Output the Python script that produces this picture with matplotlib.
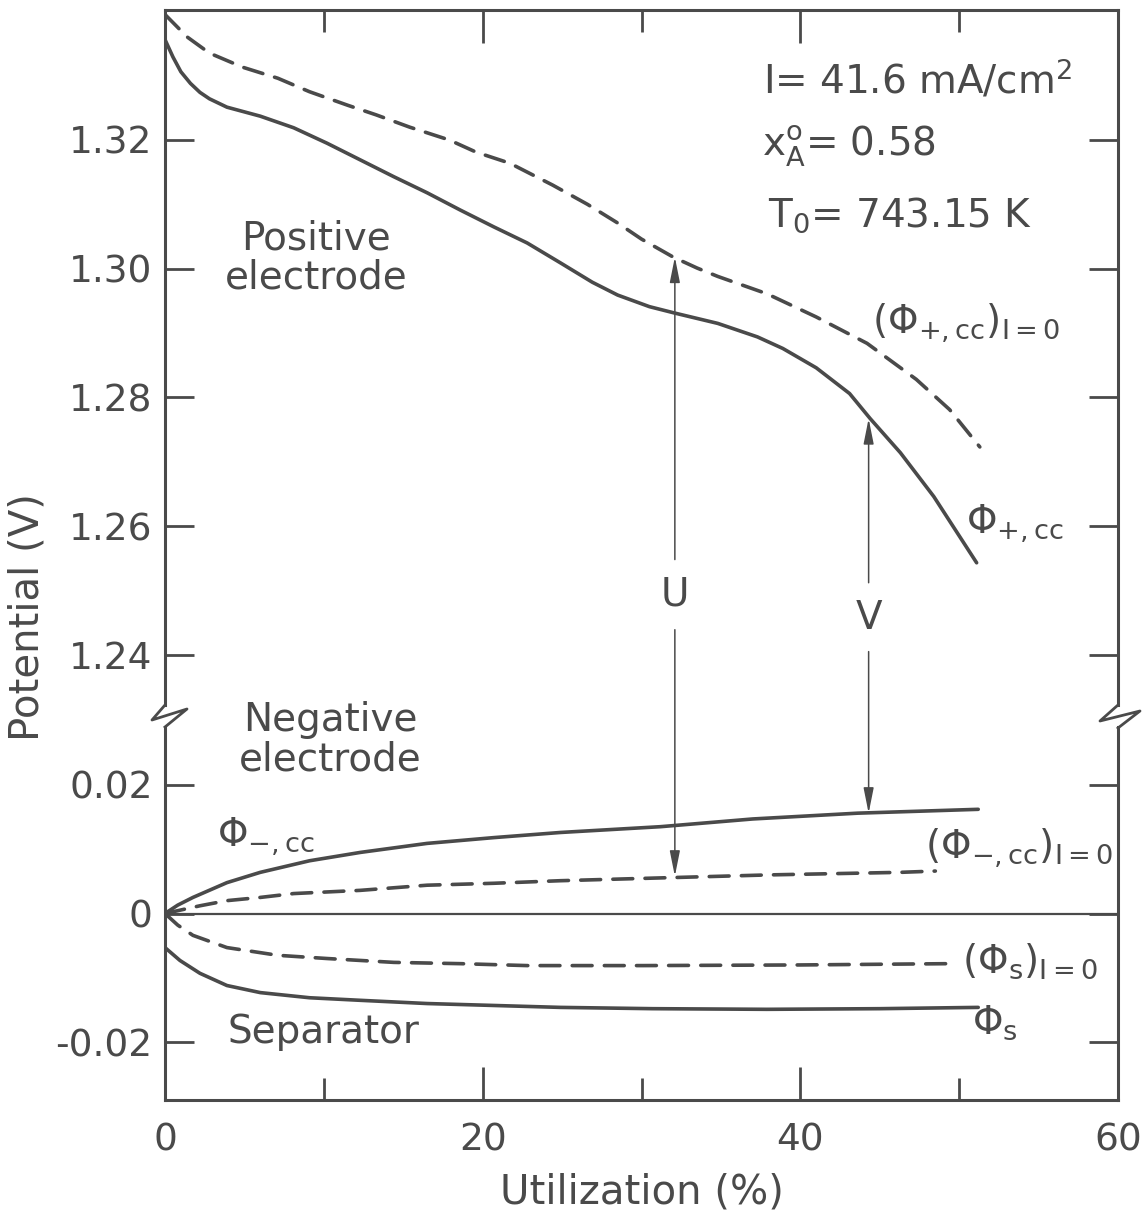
import matplotlib
matplotlib.use('Agg')
import matplotlib.pyplot as plt
from matplotlib.lines import Line2D

plt.rcParams['font.family'] = ['DejaVu Sans']
plt.rcParams['mathtext.fontset'] = 'dejavusans'
plt.rcParams['mathtext.default'] = 'regular'

INK = '#4a4a4a'

# positive electrode, solid = under current, dashed = I=0
pos_x = [0.0, 0.5, 1.0, 1.6, 2.2, 2.8, 3.9, 6.0, 8.1, 10.2, 12.3, 14.4, 16.5, 18.6, 20.7,
         22.8, 24.9, 26.9, 28.5, 30.5, 32.1, 34.8, 37.3, 38.9, 41.0, 43.1, 44.4, 46.3,
         48.4, 51.1]
pos_v = [1.3356, 1.3329, 1.3306, 1.3288, 1.3274, 1.3264, 1.3251, 1.3237, 1.3219, 1.3195,
         1.3169, 1.3143, 1.3118, 1.3091, 1.3065, 1.3040, 1.3009, 1.2979, 1.2959, 1.2941,
         1.2931, 1.2915, 1.2894, 1.2876, 1.2846, 1.2806, 1.2767, 1.2714, 1.2646, 1.2543]
pos0_x = [0.0, 1.4, 2.8, 4.9, 7.1, 9.1, 11.5, 13.3, 15.4, 17.9, 19.6, 21.7, 24.4, 26.6,
          28.5, 30.0, 32.0, 33.5, 34.8, 37.9, 41.0, 44.2, 47.3, 49.4, 51.3]
pos0_v = [1.3395, 1.3360, 1.3335, 1.3313, 1.3296, 1.3275, 1.3254, 1.3239, 1.3220, 1.3200,
          1.3181, 1.3164, 1.3130, 1.3100, 1.3071, 1.3046, 1.3018, 1.3001, 1.2988, 1.2961,
          1.2925, 1.2884, 1.2828, 1.2781, 1.2723]

# negative electrode
neg_x = [0.0, 0.8, 1.76, 3.9, 6.0, 9.1, 12.3, 16.5, 20.7, 24.9, 31.2, 37.0, 43.6, 51.2]
neg_v = [0.0, 0.0013, 0.0025, 0.0048, 0.0064, 0.0082, 0.0095, 0.0109, 0.0118, 0.0126,
         0.0135, 0.0147, 0.0156, 0.0162]
neg0_x = [0.0, 2.2, 3.9, 6.0, 8.1, 12.3, 16.5, 20.7, 24.9, 30.7, 38.0, 46.3, 48.5]
neg0_v = [0.0, 0.0012, 0.0020, 0.0025, 0.0031, 0.0036, 0.0044, 0.0047, 0.0051, 0.0055,
          0.0060, 0.0064, 0.0066]

# separator
sep_x = [0.0, 0.94, 2.2, 3.9, 6.0, 9.1, 12.3, 16.5, 20.7, 24.9, 30.7, 37.9, 45.0, 51.2]
sep_v = [-0.0053, -0.0073, -0.0093, -0.0112, -0.0123, -0.0131, -0.0135, -0.0140, -0.0143,
         -0.0146, -0.0148, -0.0149, -0.0148, -0.0146]
sep0_x = [0.0, 0.8, 1.76, 3.9, 7.1, 10.2, 14.4, 18.6, 22.8, 30.1, 40.0, 49.4]
sep0_v = [0.0, -0.0018, -0.0034, -0.0053, -0.0065, -0.0070, -0.0076, -0.0078, -0.0081,
          -0.0081, -0.0080, -0.0078]

# U and V markers
u_x, u_top, u_bot = 32.1, 1.3018, 0.0058
v_x, v_top, v_bot = 44.3, 1.2767, 0.0156

up_ticks = [1.24, 1.26, 1.28, 1.30, 1.32]
up_labels = ['1.24', '1.26', '1.28', '1.30', '1.32']
lo_ticks = [-0.02, 0, 0.02]
lo_labels = ['-0.02', '0', '0.02']
x_ticks = [0, 20, 40, 60]
x_minor = [10, 30, 50]

W, H = 1146, 1213
fig = plt.figure(figsize=(W / 100, H / 100), dpi=100)


def fx(px):
    return px / W


def fy(py):
    return 1 - py / H


L, R = 165, 1118
ax_up = fig.add_axes([fx(L), fy(705), fx(R) - fx(L), fy(10) - fy(705)])
ax_lo = fig.add_axes([fx(L), fy(1100), fx(R) - fx(L), fy(727) - fy(1100)])

for ax in (ax_up, ax_lo):
    ax.set_facecolor('none')
    ax.set_xlim(0, 60)
    for s in ax.spines.values():
        s.set_color(INK)
        s.set_linewidth(2.2)
    ax.set_xticks(x_ticks)
    ax.set_xticks(x_minor, minor=True)
    ax.tick_params(which='both', direction='in', color=INK, width=2,
                   labelcolor=INK, labelsize=27)
    ax.tick_params(which='major', length=23.5)
    ax.tick_params(which='minor', length=15.5)
    ax.tick_params(axis='y', which='major', length=21, pad=9, left=True, right=True)

ax_up.set_ylim(1.2322, 1.3402)
ax_lo.set_ylim(-0.029, 0.0290)
ax_up.spines['bottom'].set_visible(False)
ax_lo.spines['top'].set_visible(False)
ax_up.tick_params(axis='x', which='both', bottom=False, top=True, labelbottom=False)
ax_lo.tick_params(axis='x', which='both', bottom=True, top=False, pad=16)
ax_up.set_yticks(up_ticks, up_labels)
ax_lo.set_yticks(lo_ticks, lo_labels)
ax_lo.set_xticklabels([str(t) for t in x_ticks])

lw = 2.6
dash = (5.5, 3.4)
ax_up.plot(pos_x, pos_v, color=INK, lw=lw, solid_capstyle='round', solid_joinstyle='round')
ax_up.plot(pos0_x, pos0_v, color=INK, lw=lw, ls=(0, dash), dash_capstyle='round')
ax_lo.plot(neg_x, neg_v, color=INK, lw=lw, solid_capstyle='round', solid_joinstyle='round')
ax_lo.plot(neg0_x, neg0_v, color=INK, lw=lw, ls=(0, dash), dash_capstyle='round')
ax_lo.plot(sep_x, sep_v, color=INK, lw=lw, solid_capstyle='round', solid_joinstyle='round')
ax_lo.plot(sep0_x, sep0_v, color=INK, lw=lw, ls=(0, dash), dash_capstyle='round')
ax_lo.axhline(0, color=INK, lw=1.6)

# axis break marks
def zig(x0, pts):
    xs = [fx(x0 + dx) for dx, dy in pts]
    ys = [fy(705 + dy) for dx, dy in pts]
    fig.add_artist(Line2D(xs, ys, color=INK, lw=2.0, transform=fig.transFigure))


zig(L, [(0, 0), (-13, 15), (22, 4), (0, 22)])
zig(R, [(0, 0), (-18, 16), (22, 6), (0, 23)])

# U / V arrows
aprops = dict(arrowstyle='-|>,head_length=1.1,head_width=0.22', color=INK, lw=1.1,
              shrinkA=0, shrinkB=0, mutation_scale=14)


def arrow(x, y_from, from_ax, y_to, to_ax):
    ax_lo.annotate('', xy=(x, y_to), xycoords=to_ax.transData,
                   xytext=(x, y_from), textcoords=from_ax.transData,
                   arrowprops=aprops, annotation_clip=False)


arrow(u_x, 1.2548, ax_up, u_top, ax_up)
arrow(u_x, 1.2439, ax_up, u_bot, ax_lo)
arrow(v_x, 1.2512, ax_up, v_top, ax_up)
arrow(v_x, 1.2405, ax_up, v_bot, ax_lo)
ax_up.text(u_x, 1.2493, 'U', ha='center', va='center', fontsize=28, color=INK)
ax_up.text(v_x, 1.2457, 'V', ha='center', va='center', fontsize=28, color=INK)

fs = 28
ax_up.text(37.65, 1.3273, r'I= 41.6 mA/cm$^2$', fontsize=fs, color=INK, va='baseline')
ax_up.text(37.6, 1.3174, r'$\mathrm{x}_\mathrm{A}^\mathrm{o}$= 0.58', fontsize=fs,
           color=INK, va='baseline')
ax_up.text(37.96, 1.3065, r'T$_\mathrm{0}$= 743.15 K', fontsize=fs, color=INK, va='baseline')
ax_up.text(9.5, 1.3017, 'Positive\nelectrode', fontsize=fs, color=INK,
           ha='center', va='center', linespacing=1.05)
ax_lo.text(10.4, 0.0270, 'Negative\nelectrode', fontsize=fs, color=INK,
           ha='center', va='center', linespacing=1.05)
ax_lo.text(10.0, -0.0202, 'Separator', fontsize=fs, color=INK, ha='center', va='baseline')

ax_up.text(44.5, 1.2900, r'$\left(\Phi_{+,\mathrm{cc}}\right)_{\mathrm{I=0}}$',
           fontsize=fs, color=INK, va='baseline')
ax_up.text(50.4, 1.2590, r'$\Phi_{+,\mathrm{cc}}$', fontsize=fs, color=INK, va='baseline')
ax_lo.text(3.3, 0.0106, r'$\Phi_{-,\mathrm{cc}}$', fontsize=fs, color=INK, va='baseline')
ax_lo.text(47.85, 0.0086, r'$\left(\Phi_{-,\mathrm{cc}}\right)_{\mathrm{I=0}}$',
           fontsize=fs, color=INK, va='baseline')
ax_lo.text(50.2, -0.0092, r'$\left(\Phi_\mathrm{s}\right)_{\mathrm{I=0}}$',
           fontsize=fs, color=INK, va='baseline')
ax_lo.text(50.8, -0.0187, r'$\Phi_\mathrm{s}$', fontsize=fs, color=INK, va='baseline')

ax_lo.set_xlabel('Utilization (%)', fontsize=29, color=INK, labelpad=10)
fig.text(fx(28), fy(617), 'Potential (V)', rotation=90, fontsize=29, color=INK,
         ha='center', va='center')

fig.savefig('out.png', dpi=100)
